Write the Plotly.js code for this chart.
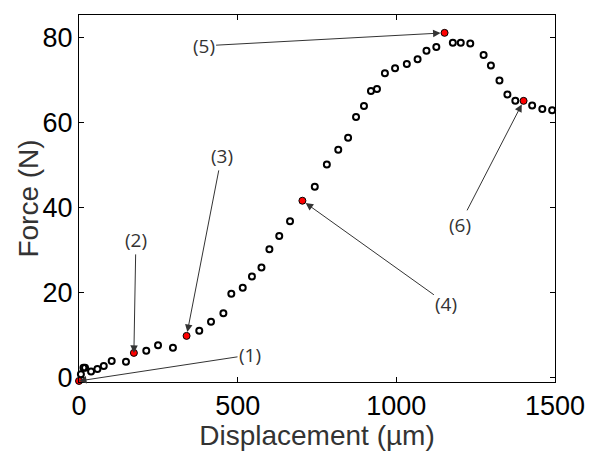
<!DOCTYPE html>
<html>
<head>
<meta charset="utf-8">
<script src="https://cdn.plot.ly/plotly-3.0.1.min.js"></script>
<style>html,body{margin:0;padding:0;background:#fff;}#chart{width:590px;height:451px;}</style>
</head>
<body>
<div id="chart"></div>
<script>
// Measured curve (open circles)
const dispUm = [6, 14, 19, 38, 58, 78, 103, 148, 212, 249, 296, 379, 416, 455, 480, 516, 545, 575, 600, 631, 665, 743, 781, 817, 848, 873, 898, 920, 939, 964, 996, 1033, 1067, 1095, 1126, 1178, 1203, 1233, 1275, 1298, 1325, 1350, 1375, 1428, 1460, 1491];
const forceN = [0.8, 2.3, 2.3, 1.4, 2.0, 2.7, 3.9, 3.7, 6.3, 7.6, 7.0, 11.0, 13.1, 15.1, 19.7, 21.1, 23.8, 25.9, 30.2, 33.3, 36.8, 44.9, 50.1, 53.6, 56.4, 61.3, 63.9, 67.4, 67.9, 71.6, 72.8, 73.8, 74.9, 76.9, 77.8, 78.8, 78.8, 78.6, 75.9, 73.4, 69.9, 66.6, 65.1, 64.0, 63.2, 62.9];
// Highlighted stages (red points)
const stageDisp = [0, 173, 339, 704, 1152, 1401];
const stageForce = [-0.8, 5.8, 9.8, 41.6, 81.1, 65.1];
const stageLabels = ['(1)', '(2)', '(3)', '(4)', '(5)', '(6)'];
const xTicks = [0, 500, 1000, 1500];
const yTicks = [0, 20, 40, 60, 80];
const xTitle = 'Displacement (µm)';
const yTitle = 'Force (N)';

// label offsets in pixels (layout only)
const labelOffsets = [[171, -26], [2, -113], [35, -180], [144, 103], [-241, 13], [-64, 124]];
const standoffs = [0, 0, 4, 4, 4, 4];

const annotations = stageLabels.map((t, i) => ({
  x: stageDisp[i], y: stageForce[i], xref: 'x', yref: 'y',
  text: t, showarrow: true, ax: labelOffsets[i][0], ay: labelOffsets[i][1],
  arrowhead: 2, arrowsize: 1.5, arrowwidth: 1, arrowcolor: '#333',
  standoff: standoffs[i],
  font: {family: 'Open Sans', size: 19, color: '#333'}
}));
annotations.push({
  xref: 'paper', yref: 'paper', x: -0.107, y: 0.5, xanchor: 'center', yanchor: 'middle',
  textangle: -90, showarrow: false, text: yTitle,
  font: {family: 'Liberation Sans, Arial', size: 28, color: '#333'}
});

const traces = [
  {x: dispUm, y: forceN, type: 'scatter', mode: 'markers',
   marker: {symbol: 'circle-open', size: 6, color: '#000', line: {width: 2, color: '#000'}},
   cliponaxis: false, hoverinfo: 'x+y'},
  {x: stageDisp, y: stageForce, type: 'scatter', mode: 'markers',
   marker: {symbol: 'circle', size: 7, color: '#ff0000', line: {width: 1, color: '#000'}},
   cliponaxis: false, hoverinfo: 'x+y'}
];

const axisCommon = {
  showline: true, mirror: 'ticks', linecolor: '#000', linewidth: 1,
  ticks: 'inside', ticklen: 5, tickwidth: 1, tickcolor: '#000',
  showgrid: false, zeroline: false,
  tickfont: {family: 'Liberation Sans, Arial', size: 27, color: '#000'}
};

const layout = {
  width: 590, height: 451,
  margin: {l: 79, r: 35, t: 15, b: 69},
  paper_bgcolor: '#fff', plot_bgcolor: '#fff',
  showlegend: false,
  xaxis: Object.assign({}, axisCommon, {
    range: [0, 1500], tickvals: xTicks, ticktext: xTicks.map(String),
    title: {text: xTitle, font: {family: 'Liberation Sans, Arial', size: 28, color: '#333'}, standoff: 0}
  }),
  yaxis: Object.assign({}, axisCommon, {
    range: [-1.05, 85.3], tickvals: yTicks, ticktext: yTicks.map(String)
  }),
  annotations: annotations
};

Plotly.newPlot('chart', traces, layout, {displayModeBar: false, staticPlot: true});
</script>
</body>
</html>
